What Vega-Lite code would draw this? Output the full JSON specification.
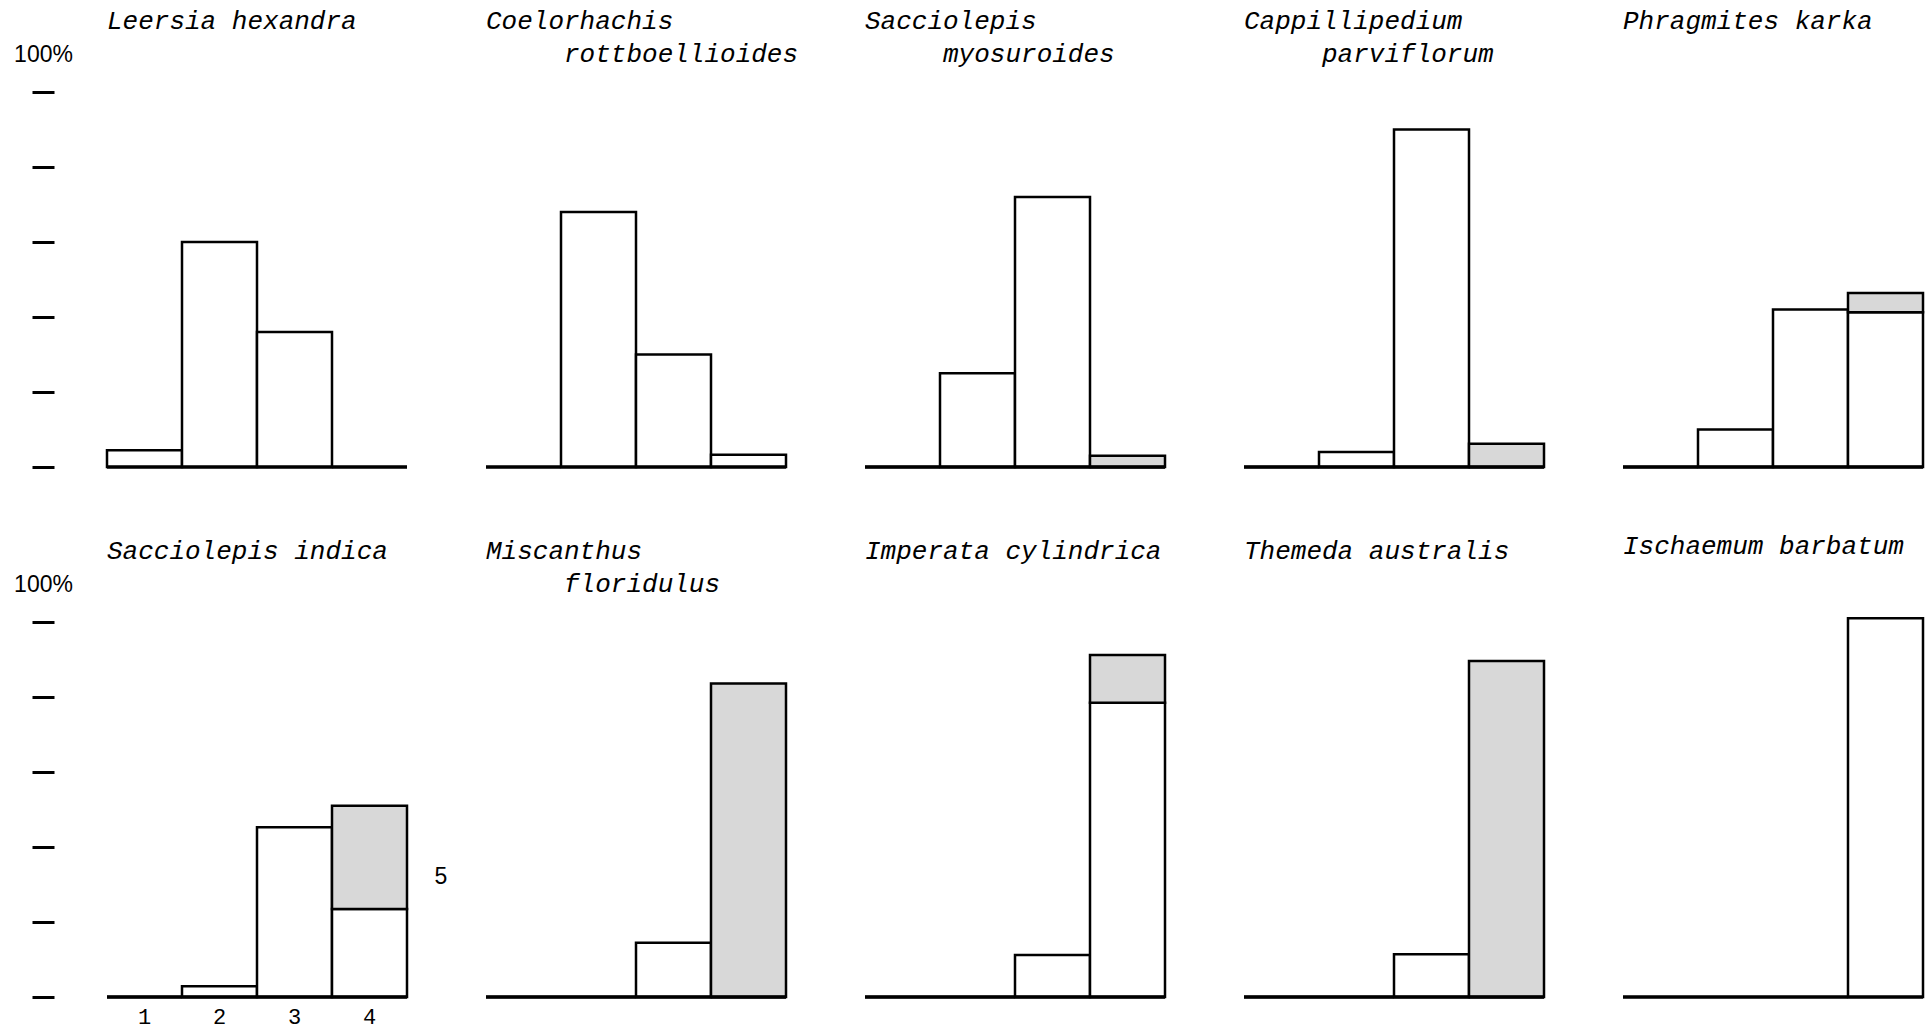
{
  "$schema": "https://vega.github.io/schema/vega-lite/v6.json",
  "background": "white",
  "padding": {"left": 13, "top": 8, "right": 4, "bottom": 2},
  "bounds": "flush",
  "data": {
    "values": [
      {"species": "Leersia hexandra", "pos": 1, "cls": 1, "value": 4.5},
      {"species": "Leersia hexandra", "pos": 2, "cls": 2, "value": 60},
      {"species": "Leersia hexandra", "pos": 3, "cls": 3, "value": 36},
      {"species": "Leersia hexandra", "pos": 4, "cls": 4, "value": 0},
      {"species": "Coelorhachis rottboellioides", "pos": 1, "cls": 1, "value": 0},
      {"species": "Coelorhachis rottboellioides", "pos": 2, "cls": 2, "value": 68},
      {"species": "Coelorhachis rottboellioides", "pos": 3, "cls": 3, "value": 30},
      {"species": "Coelorhachis rottboellioides", "pos": 4, "cls": 4, "value": 3.3},
      {"species": "Sacciolepis myosuroides", "pos": 1, "cls": 1, "value": 0},
      {"species": "Sacciolepis myosuroides", "pos": 2, "cls": 2, "value": 25},
      {"species": "Sacciolepis myosuroides", "pos": 3, "cls": 3, "value": 72},
      {"species": "Sacciolepis myosuroides", "pos": 4, "cls": 4, "value": 0},
      {"species": "Sacciolepis myosuroides", "pos": 4, "cls": 5, "value": 3},
      {"species": "Cappillipedium parviflorum", "pos": 1, "cls": 1, "value": 0},
      {"species": "Cappillipedium parviflorum", "pos": 2, "cls": 2, "value": 4},
      {"species": "Cappillipedium parviflorum", "pos": 3, "cls": 3, "value": 90},
      {"species": "Cappillipedium parviflorum", "pos": 4, "cls": 4, "value": 0},
      {"species": "Cappillipedium parviflorum", "pos": 4, "cls": 5, "value": 6.2},
      {"species": "Phragmites karka", "pos": 1, "cls": 1, "value": 0},
      {"species": "Phragmites karka", "pos": 2, "cls": 2, "value": 10},
      {"species": "Phragmites karka", "pos": 3, "cls": 3, "value": 42},
      {"species": "Phragmites karka", "pos": 4, "cls": 4, "value": 41.3},
      {"species": "Phragmites karka", "pos": 4, "cls": 5, "value": 5.1},
      {"species": "Sacciolepis indica", "pos": 1, "cls": 1, "value": 0},
      {"species": "Sacciolepis indica", "pos": 2, "cls": 2, "value": 2.9},
      {"species": "Sacciolepis indica", "pos": 3, "cls": 3, "value": 45.3},
      {"species": "Sacciolepis indica", "pos": 4, "cls": 4, "value": 23.5},
      {"species": "Sacciolepis indica", "pos": 4, "cls": 5, "value": 27.5},
      {"species": "Miscanthus floridulus", "pos": 1, "cls": 1, "value": 0},
      {"species": "Miscanthus floridulus", "pos": 2, "cls": 2, "value": 0},
      {"species": "Miscanthus floridulus", "pos": 3, "cls": 3, "value": 14.5},
      {"species": "Miscanthus floridulus", "pos": 4, "cls": 4, "value": 0},
      {"species": "Miscanthus floridulus", "pos": 4, "cls": 5, "value": 83.6},
      {"species": "Imperata cylindrica", "pos": 1, "cls": 1, "value": 0},
      {"species": "Imperata cylindrica", "pos": 2, "cls": 2, "value": 0},
      {"species": "Imperata cylindrica", "pos": 3, "cls": 3, "value": 11.2},
      {"species": "Imperata cylindrica", "pos": 4, "cls": 4, "value": 78.5},
      {"species": "Imperata cylindrica", "pos": 4, "cls": 5, "value": 12.7},
      {"species": "Themeda australis", "pos": 1, "cls": 1, "value": 0},
      {"species": "Themeda australis", "pos": 2, "cls": 2, "value": 0},
      {"species": "Themeda australis", "pos": 3, "cls": 3, "value": 11.4},
      {"species": "Themeda australis", "pos": 4, "cls": 4, "value": 0},
      {"species": "Themeda australis", "pos": 4, "cls": 5, "value": 89.6},
      {"species": "Ischaemum barbatum", "pos": 1, "cls": 1, "value": 0},
      {"species": "Ischaemum barbatum", "pos": 2, "cls": 2, "value": 0},
      {"species": "Ischaemum barbatum", "pos": 3, "cls": 3, "value": 0},
      {"species": "Ischaemum barbatum", "pos": 4, "cls": 4, "value": 101}
    ]
  },
  "transform": [
    {"stack": "value", "groupby": ["species", "pos"], "sort": [{"field": "cls"}], "as": ["v0", "v1"]}
  ],
  "facet": {
    "field": "species",
    "type": "nominal",
    "sort": [
      "Leersia hexandra", "Coelorhachis rottboellioides", "Sacciolepis myosuroides",
      "Cappillipedium parviflorum", "Phragmites karka", "Sacciolepis indica",
      "Miscanthus floridulus", "Imperata cylindrica", "Themeda australis", "Ischaemum barbatum"
    ],
    "header": {
      "title": null,
      "labelOrient": "top",
      "labelAnchor": "start",
      "labelAlign": "left",
      "labelBaseline": "top",
      "labelFont": "Liberation Mono",
      "labelFontStyle": "italic",
      "labelFontSize": 26,
      "labelLineHeight": 33,
      "labelColor": "black",
      "labelPadding": 25,
      "labelExpr": "length(datum.value) > 20 ? [split(datum.value, ' ')[0], '\u200b\u00a0\u00a0\u00a0\u00a0\u00a0' + split(datum.value, ' ')[1]] : [datum.value, '\u200b']"
    }
  },
  "columns": 5,
  "spacing": {"column": 79, "row": 155},
  "spec": {
    "width": 300,
    "height": 375,
    "encoding": {
      "x": {
        "field": "pos",
        "type": "ordinal",
        "axis": null,
        "scale": {"paddingInner": 0, "paddingOuter": 0}
      }
    },
    "layer": [
      {
        "mark": {"type": "bar", "stroke": "black", "strokeWidth": 2.5, "clip": false},
        "encoding": {
          "y": {
            "field": "v1",
            "type": "quantitative",
            "scale": {"domain": [0, 100], "nice": false},
            "axis": {
              "title": null,
              "values": [0, 20, 40, 60, 80, 100],
              "domain": false,
              "grid": false,
              "offset": 53,
              "tickSize": 22,
              "tickWidth": 3,
              "tickColor": "black",
              "labelExpr": "datum.value == 100 ? '100%' : ''",
              "labelAlign": "center",
              "labelBaseline": "middle",
              "labelPadding": -11,
              "labelOffset": -38,
              "labelFont": "Liberation Sans",
              "labelFontSize": 23,
              "labelColor": "black"
            }
          },
          "y2": {"field": "v0"},
          "fill": {
            "condition": {"test": "datum.cls == 5", "value": "#d8d8d8"},
            "value": "white"
          }
        }
      },
      {
        "mark": {"type": "rule", "stroke": "black", "strokeWidth": 2.5},
        "encoding": {"y": {"datum": 0}, "x": null}
      },
      {
        "transform": [{"filter": "datum.species == 'Sacciolepis indica' && datum.cls <= 4"}],
        "mark": {"type": "text", "baseline": "top", "dy": 10, "font": "Liberation Mono", "fontSize": 22, "color": "black"},
        "encoding": {
          "y": {"datum": 0},
          "text": {"field": "pos", "type": "ordinal"}
        }
      },
      {
        "transform": [{"filter": "datum.species == 'Sacciolepis indica' && datum.cls == 5"}],
        "mark": {"type": "text", "align": "left", "baseline": "bottom", "dx": 65, "dy": -20, "font": "Liberation Sans", "fontSize": 23, "color": "black"},
        "encoding": {
          "y": {"field": "v0", "type": "quantitative"},
          "text": {"field": "cls", "type": "ordinal"}
        }
      }
    ]
  },
  "config": {
    "view": {"stroke": null}
  }
}
